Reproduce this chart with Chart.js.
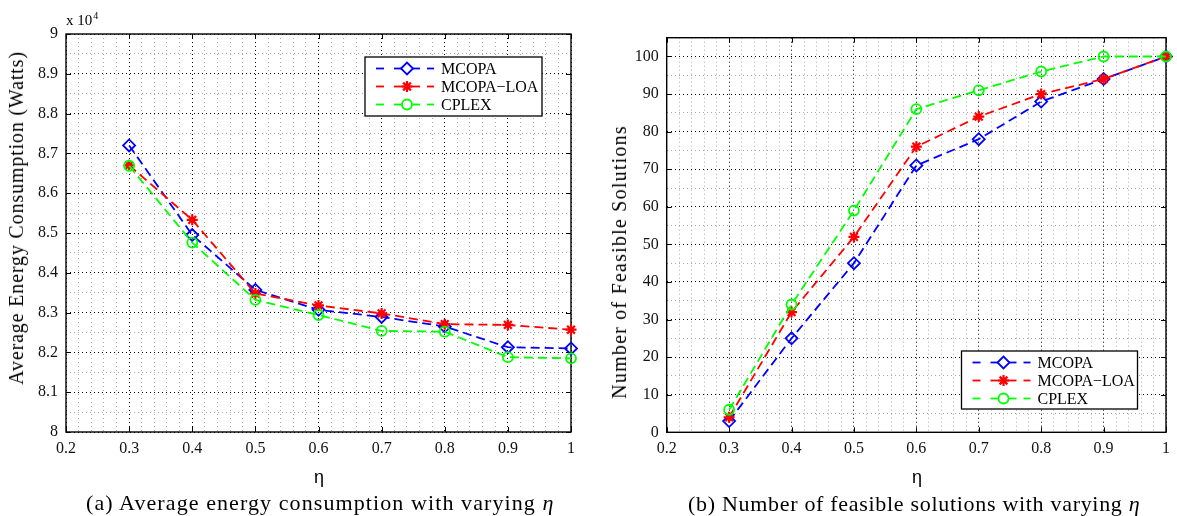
<!DOCTYPE html>
<html>
<head>
<meta charset="utf-8">
<title>Energy consumption and feasible solutions vs. eta</title>
<script src="https://cdn.jsdelivr.net/npm/chart.js@4.4.1/dist/chart.umd.min.js"></script>
<style>
  html, body { margin: 0; padding: 0; background: #fff; }
  #page { position: relative; width: 1177px; height: 516px; overflow: hidden; background: #fff; }
  canvas { position: absolute; top: 0; }
  .txt { position: absolute; white-space: nowrap; line-height: 1; color: #000; }
  .serif { font-family: "Liberation Serif", "Times New Roman", serif; }
  .sans { font-family: "Liberation Sans", Arial, sans-serif; }
</style>
</head>
<body>
<div id="page">
  <canvas id="chartA" width="590" height="516" style="left:0"></canvas>
  <canvas id="chartB" width="587" height="516" style="left:590px"></canvas>

  <div class="txt serif" id="expo" style="left:66px;top:13px;font-size:15px">x 10<span style="position:relative;top:-6px;font-size:10px;margin-left:1px">4</span></div>

  <div class="txt serif" id="ytitleA" style="font-size:20px">Average Energy Consumption (Watts)</div>
  <div class="txt serif" id="ytitleB" style="font-size:20px">Number of Feasible Solutions</div>
  <div class="txt sans" id="xtitleA" style="font-size:18px">η</div>
  <div class="txt sans" id="xtitleB" style="font-size:18px">η</div>

  <div class="txt serif" id="capA" style="font-size:22px">(a) Average energy consumption with varying <i>η</i></div>
  <div class="txt serif" id="capB" style="font-size:22px">(b) Number of feasible solutions with varying <i>η</i></div>
</div>

<script>
// ---- data -------------------------------------------------------------
const etaValues = [0.3, 0.4, 0.5, 0.6, 0.7, 0.8, 0.9, 1.0];

// average energy consumption, Watts
const energyMCOPA = [87200, 84950, 83570, 83070, 82890, 82650, 82130, 82100];
const energyLOA   = [86700, 85330, 83480, 83180, 82980, 82710, 82690, 82570];
const energyCPLEX = [86690, 84760, 83320, 82940, 82540, 82520, 81880, 81850];

// number of feasible solutions
const feasibleMCOPA = [3, 25, 45, 71, 78, 88, 94, 100];
const feasibleLOA   = [4, 32, 52, 76, 84, 90, 94, 100];
const feasibleCPLEX = [6, 34, 59, 86, 91, 96, 100, 100];

const seriesNames = ['MCOPA', 'MCOPA\u2212LOA', 'CPLEX'];

// ---- styling ----------------------------------------------------------
const SERIF = '"Liberation Serif", "Times New Roman", serif';
const BLUE = '#0000ff', RED = '#ff0000', GREEN = '#00ff00';
const DASH = [9, 5];

function fmtNum(v) { return String(parseFloat(Number(v).toFixed(3))); }
function onGrid(v, step) { const q = v / step; return Math.abs(q - Math.round(q)) < 1e-6; }

function seriesStyle(i) {
  const base = { borderWidth: 1.8, borderDash: DASH, tension: 0, fill: false, clip: false,
                 pointBackgroundColor: 'rgba(0,0,0,0)', pointBorderWidth: 1.8 };
  if (i === 0) return Object.assign(base, { borderColor: BLUE, pointBorderColor: BLUE, pointStyle: 'rectRot', pointRadius: 6, order: 2 });
  if (i === 1) return Object.assign(base, { borderColor: RED, pointBorderColor: RED, pointStyle: 'star', pointRadius: 5.5, pointBorderWidth: 2.2, order: 1 });
  return Object.assign(base, { borderColor: GREEN, pointBorderColor: GREEN, pointStyle: 'circle', pointRadius: 5, order: 0 });
}

function makeDatasets(lists) {
  return lists.map((vals, i) => Object.assign({
    label: seriesNames[i],
    data: etaValues.map((x, k) => ({ x: x, y: vals[k] }))
  }, seriesStyle(i)));
}

// axes box with inward tick marks on all four sides
const framePlugin = {
  id: 'frame',
  beforeDatasetsDraw(chart) {
    const { ctx, chartArea: a, scales } = chart;
    ctx.save();
    ctx.setLineDash([]);
    ctx.strokeStyle = '#000';
    ctx.lineWidth = 1;
    const tl = 5;
    const seg = (x1, y1, x2, y2) => { ctx.beginPath(); ctx.moveTo(x1, y1); ctx.lineTo(x2, y2); ctx.stroke(); };
    scales.x.ticks.forEach(t => {
      const px = Math.round(scales.x.getPixelForValue(t.value)) + 0.5;
      seg(px, a.bottom, px, a.bottom - tl);
      seg(px, a.top, px, a.top + tl);
    });
    scales.y.ticks.forEach(t => {
      const py = Math.round(scales.y.getPixelForValue(t.value)) + 0.5;
      seg(a.left, py, a.left + tl, py);
      seg(a.right, py, a.right - tl, py);
    });
    ctx.lineWidth = 1.4;
    ctx.strokeRect(a.left, a.top, a.right - a.left, a.bottom - a.top);
    ctx.restore();
  }
};

// boxed legend: dashed sample line with the marker in its middle
const boxLegendPlugin = {
  id: 'boxLegend',
  afterDatasetsDraw(chart, args, opts) {
    const { ctx, chartArea: a } = chart;
    const w = opts.width, h = opts.height;
    const left = a.right - opts.right - w;
    const top = opts.corner === 'ne' ? a.top + opts.offset : a.bottom - opts.offset - h;
    ctx.save();
    ctx.setLineDash([]);
    ctx.fillStyle = '#fff';
    ctx.fillRect(left, top, w, h);
    ctx.strokeStyle = '#000';
    ctx.lineWidth = 1.3;
    ctx.strokeRect(left, top, w, h);
    ctx.font = '16px ' + SERIF;
    ctx.textBaseline = 'middle';
    ctx.textAlign = 'left';
    chart.data.datasets.forEach((ds, i) => {
      const y = top + 11.5 + i * 18;
      ctx.strokeStyle = ds.borderColor;
      ctx.lineWidth = ds.borderWidth;
      [[11, 19], [29, 55], [62, 69]].forEach(s => {
        ctx.beginPath(); ctx.moveTo(left + s[0], y); ctx.lineTo(left + s[1], y); ctx.stroke();
      });
      ctx.fillStyle = ds.pointStyle === 'star' ? ds.pointBorderColor : '#fff';
      ctx.strokeStyle = ds.pointBorderColor;
      ctx.lineWidth = ds.pointBorderWidth;
      Chart.helpers.drawPoint(ctx, { pointStyle: ds.pointStyle, radius: ds.pointRadius, rotation: 0, borderWidth: ds.pointBorderWidth }, left + 42, y);
      ctx.fillStyle = '#000';
      ctx.fillText(ds.label, left + 76, y + 1);
    });
    ctx.restore();
  }
};

function buildChart(canvasId, lists, cfg) {
  const W = cfg.width, H = cfg.height;
  const tickFont = { family: SERIF, size: 16 };
  return new Chart(document.getElementById(canvasId), {
    type: 'line',
    data: { datasets: makeDatasets(lists) },
    plugins: [framePlugin, boxLegendPlugin],
    options: {
      responsive: false,
      animation: false,
      events: [],
      layout: { padding: { left: 0, top: cfg.top, right: W - cfg.right, bottom: 0 } },
      plugins: {
        legend: { display: false },
        tooltip: { enabled: false },
        boxLegend: cfg.legend
      },
      scales: {
        xm: {
          type: 'linear', axis: 'x', position: 'bottom', display: true,
          min: cfg.xMin, max: cfg.xMax,
          ticks: { display: false, stepSize: cfg.xMinor },
          grid: { drawTicks: false, lineWidth: 1,
                  color: c => (c.tick && onGrid(c.tick.value, cfg.xMajor)) ? 'rgba(0,0,0,0)' : '#a9a9a9' },
          border: { display: false, dash: [1, 3] },
          afterFit(s) { s.height = 0; }
        },
        ym: {
          type: 'linear', axis: 'y', position: 'left', display: true,
          min: cfg.yMin, max: cfg.yMax,
          ticks: { display: false, stepSize: cfg.yMinor },
          grid: { drawTicks: false, lineWidth: 1,
                  color: c => (c.tick && onGrid(c.tick.value, cfg.yMajor)) ? 'rgba(0,0,0,0)' : '#a9a9a9' },
          border: { display: false, dash: [1, 3] },
          afterFit(s) { s.width = 0; }
        },
        x: {
          type: 'linear', position: 'bottom',
          min: cfg.xMin, max: cfg.xMax,
          ticks: { stepSize: cfg.xMajor, padding: 7, color: '#111', font: tickFont,
                   maxRotation: 0, autoSkip: false, callback: v => fmtNum(v) },
          grid: { drawTicks: false, color: '#000', lineWidth: 1 },
          border: { display: false, dash: [1, 3] },
          afterFit(s) { s.height = H - cfg.bottom; }
        },
        y: {
          type: 'linear', position: 'left',
          min: cfg.yMin, max: cfg.yMax,
          ticks: { stepSize: cfg.yMajor, padding: 8, color: '#111', font: tickFont,
                   autoSkip: false, includeBounds: false, callback: v => fmtNum(v / cfg.yDiv) },
          grid: { drawTicks: false, color: '#000', lineWidth: 1 },
          border: { display: false, dash: [1, 3] },
          afterFit(s) { s.width = cfg.left; }
        }
      }
    }
  });
}

// (a) energy consumption, axis in units of 10^4 W
buildChart('chartA', [energyMCOPA, energyLOA, energyCPLEX], {
  width: 590, height: 516, left: 66, right: 571, top: 34, bottom: 432,
  xMin: 0.2, xMax: 1, xMajor: 0.1, xMinor: 0.02,
  yMin: 80000, yMax: 90000, yMajor: 1000, yMinor: 500, yDiv: 10000,
  legend: { corner: 'ne', right: 29, offset: 23, width: 177, height: 59 }
});

// (b) feasible solutions
buildChart('chartB', [feasibleMCOPA, feasibleLOA, feasibleCPLEX], {
  width: 587, height: 516, left: 76.7, right: 576.7, top: 37.7, bottom: 432.3,
  xMin: 0.2, xMax: 1, xMajor: 0.1, xMinor: 0.02,
  yMin: 0, yMax: 105, yMajor: 10, yMinor: 5, yDiv: 1,
  legend: { corner: 'se', right: 28.5, offset: 23.3, width: 176, height: 58 }
});

// ---- text placement ---------------------------------------------------
function spreadTo(el, target) {
  el.style.letterSpacing = '0px';
  const w = el.offsetWidth;
  const n = el.textContent.length;
  if (n > 1) el.style.letterSpacing = ((target - w) / (n - 1)) + 'px';
}
function placeCentered(id, cx, cy, rotate, target) {
  const el = document.getElementById(id);
  if (target) spreadTo(el, target);
  el.style.left = cx + 'px';
  el.style.top = cy + 'px';
  el.style.transform = 'translate(-50%, -50%)' + (rotate ? ' rotate(-90deg)' : '');
}
function placeLeft(id, x, cy, target) {
  const el = document.getElementById(id);
  if (target) spreadTo(el, target);
  el.style.left = x + 'px';
  el.style.top = cy + 'px';
  el.style.transform = 'translateY(-50%)';
}

placeCentered('ytitleA', 16, 218, true, 333);
placeCentered('ytitleB', 619, 262, true, 272);
placeCentered('xtitleA', 319, 477, false);
placeCentered('xtitleB', 917, 477, false);
placeLeft('capA', 86, 502.5, 467);
placeLeft('capB', 688, 504, 452);
</script>
</body>
</html>
